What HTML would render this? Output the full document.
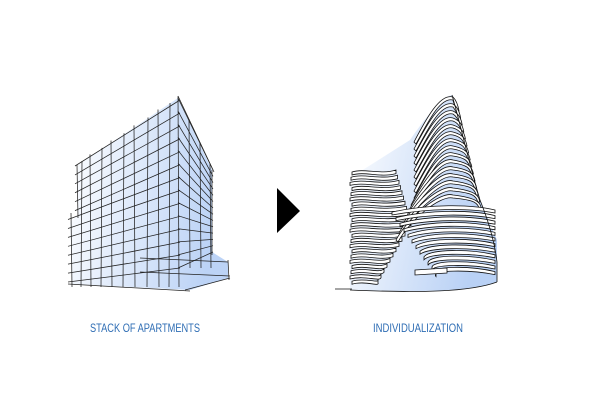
<!DOCTYPE html>
<html><head><meta charset="utf-8"><style>
html,body{margin:0;padding:0;background:#fff;width:600px;height:400px;overflow:hidden}
</style></head><body>
<svg id="s" width="600" height="400" viewBox="0 0 600 400" xmlns="http://www.w3.org/2000/svg">
<defs>
<linearGradient id="g1" x1="0" y1="0" x2="1" y2="0.2">
<stop offset="0" stop-color="#ffffff"/><stop offset="1" stop-color="#bcd3f6"/></linearGradient>
<linearGradient id="g2" x1="0" y1="0" x2="1" y2="0.3">
<stop offset="0" stop-color="#ffffff"/><stop offset="1" stop-color="#b9d1f5"/></linearGradient>
</defs>
<polygon points="78,165 178,98 212,170 212,252 228,262 228,278 190,290 72,284 70,222 78,215" fill="url(#g1)"/>
<g id="L" stroke="#222" stroke-width="0.75" fill="none"></g>
<path d="M350,178 L410,140 C425,118 442,97 452,95 C462,130 468,160 480,200 L497,240 L497,282 C470,292 420,292 350,290 Z" fill="url(#g2)"/>
<g id="R" stroke="#111" stroke-width="0.8" fill="#fff"></g>
<polygon points="277,188 300,211 277,233" fill="#000"/>
<text x="90" y="332" font-family="Liberation Sans, sans-serif" font-size="12" fill="#2e6db4" textLength="110" lengthAdjust="spacingAndGlyphs">STACK OF APARTMENTS</text>
<text x="373" y="332" font-family="Liberation Sans, sans-serif" font-size="12" fill="#2e6db4" textLength="90" lengthAdjust="spacingAndGlyphs">INDIVIDUALIZATION</text>
</svg>
<script>
var NS="http://www.w3.org/2000/svg";
function ln(g,x1,y1,x2,y2){var e=document.createElementNS(NS,"line");e.setAttribute("x1",x1);e.setAttribute("y1",y1);e.setAttribute("x2",x2);e.setAttribute("y2",y2);g.appendChild(e);}
function pth(g,d,f){var e=document.createElementNS(NS,"path");e.setAttribute("d",d);if(f)e.setAttribute("fill",f);g.appendChild(e);}
var L=document.getElementById("L");
var n=13;
for(var i=0;i<=n;i++){var t=i/n;var xl=(t<0.45?77:70);
 var ya=166+t*116, yb=100+t*168; ln(L,xl-2,ya,180,yb);}
var xs=[72,81,91,101,112,123,135,147,159,169,179];
xs.forEach(function(x,k){var yt=Math.max(165-(x-78)*0.66,98);if(x<80)yt=215; ln(L,x+(k%2?1:-1),yt-2,x,287);});
ln(L,77,165,78,218);
for(var i=0;i<=n;i++){var t=i/n;ln(L,178,98+t*170,213,170+t*82);}
[189,200,210].forEach(function(x){var yt=98+(x-178)*2.1;ln(L,x,yt-2,x+1,268);});
ln(L,178,96,214,172);ln(L,212,170,212,255);
ln(L,140,258,228,262);ln(L,228,260,229,280);ln(L,140,272,230,276);ln(L,185,290,230,278);ln(L,68,284,190,291);
var R=document.getElementById("R");
// left wing
for(var i=0;i<22;i++){var y=172+i*5.2;var x2=396+(i<10? i*1.5: 15-(i-10)*3);
 pth(R,"M"+(352-(i%3))+","+y+" C365,"+(y-4)+" 380,"+(y+3)+" "+x2+","+(y-2)+" L"+x2+","+(y+1.6)+" C380,"+(y+6)+" 365,"+(y-1)+" "+(352-(i%3))+","+(y+3)+" Z");}
// tower
for(var i=0;i<15;i++){var y0=97+i*7;var xl=414-(i>8?(i-8)*3:0);var xr=458+i*1.6;
 pth(R,"M"+xl+","+(y0+45)+" C"+(xl+12)+","+(y0+22)+" 440,"+(y0-4)+" 453,"+y0+" C"+(xr-2)+","+(y0+3)+" "+xr+","+(y0+8)+" "+(xr+1)+","+(y0+14)+" L"+(xr-1)+","+(y0+14)+" C"+(xr-3)+","+(y0+8)+" "+(xr-5)+","+(y0+5)+" 453,"+(y0+3)+" C440,"+(y0)+" "+(xl+14)+","+(y0+25)+" "+(xl+2)+","+(y0+47)+" Z");}
// lower stripes
for(var i=0;i<12;i++){var y=208+i*5.6;var xl=392+i*4;
 pth(R,"M"+xl+","+(y+4)+" C430,"+(y-4)+" 470,"+(y-4)+" 495,"+(y+2)+" L495,"+(y+5)+" C470,"+(y)+" 430,"+(y)+" "+xl+","+(y+7)+" Z");}
pth(R,"M415,270 L447,268 L447,273 L415,275 Z");
pth(R,"M350,290 C420,293 470,292 497,282","none");
pth(R,"M335,289 L352,289","none");pth(R,"M452,95 C462,130 468,160 480,200 C490,225 495,245 497,262 L497,282","none");
</script>
</body></html>
